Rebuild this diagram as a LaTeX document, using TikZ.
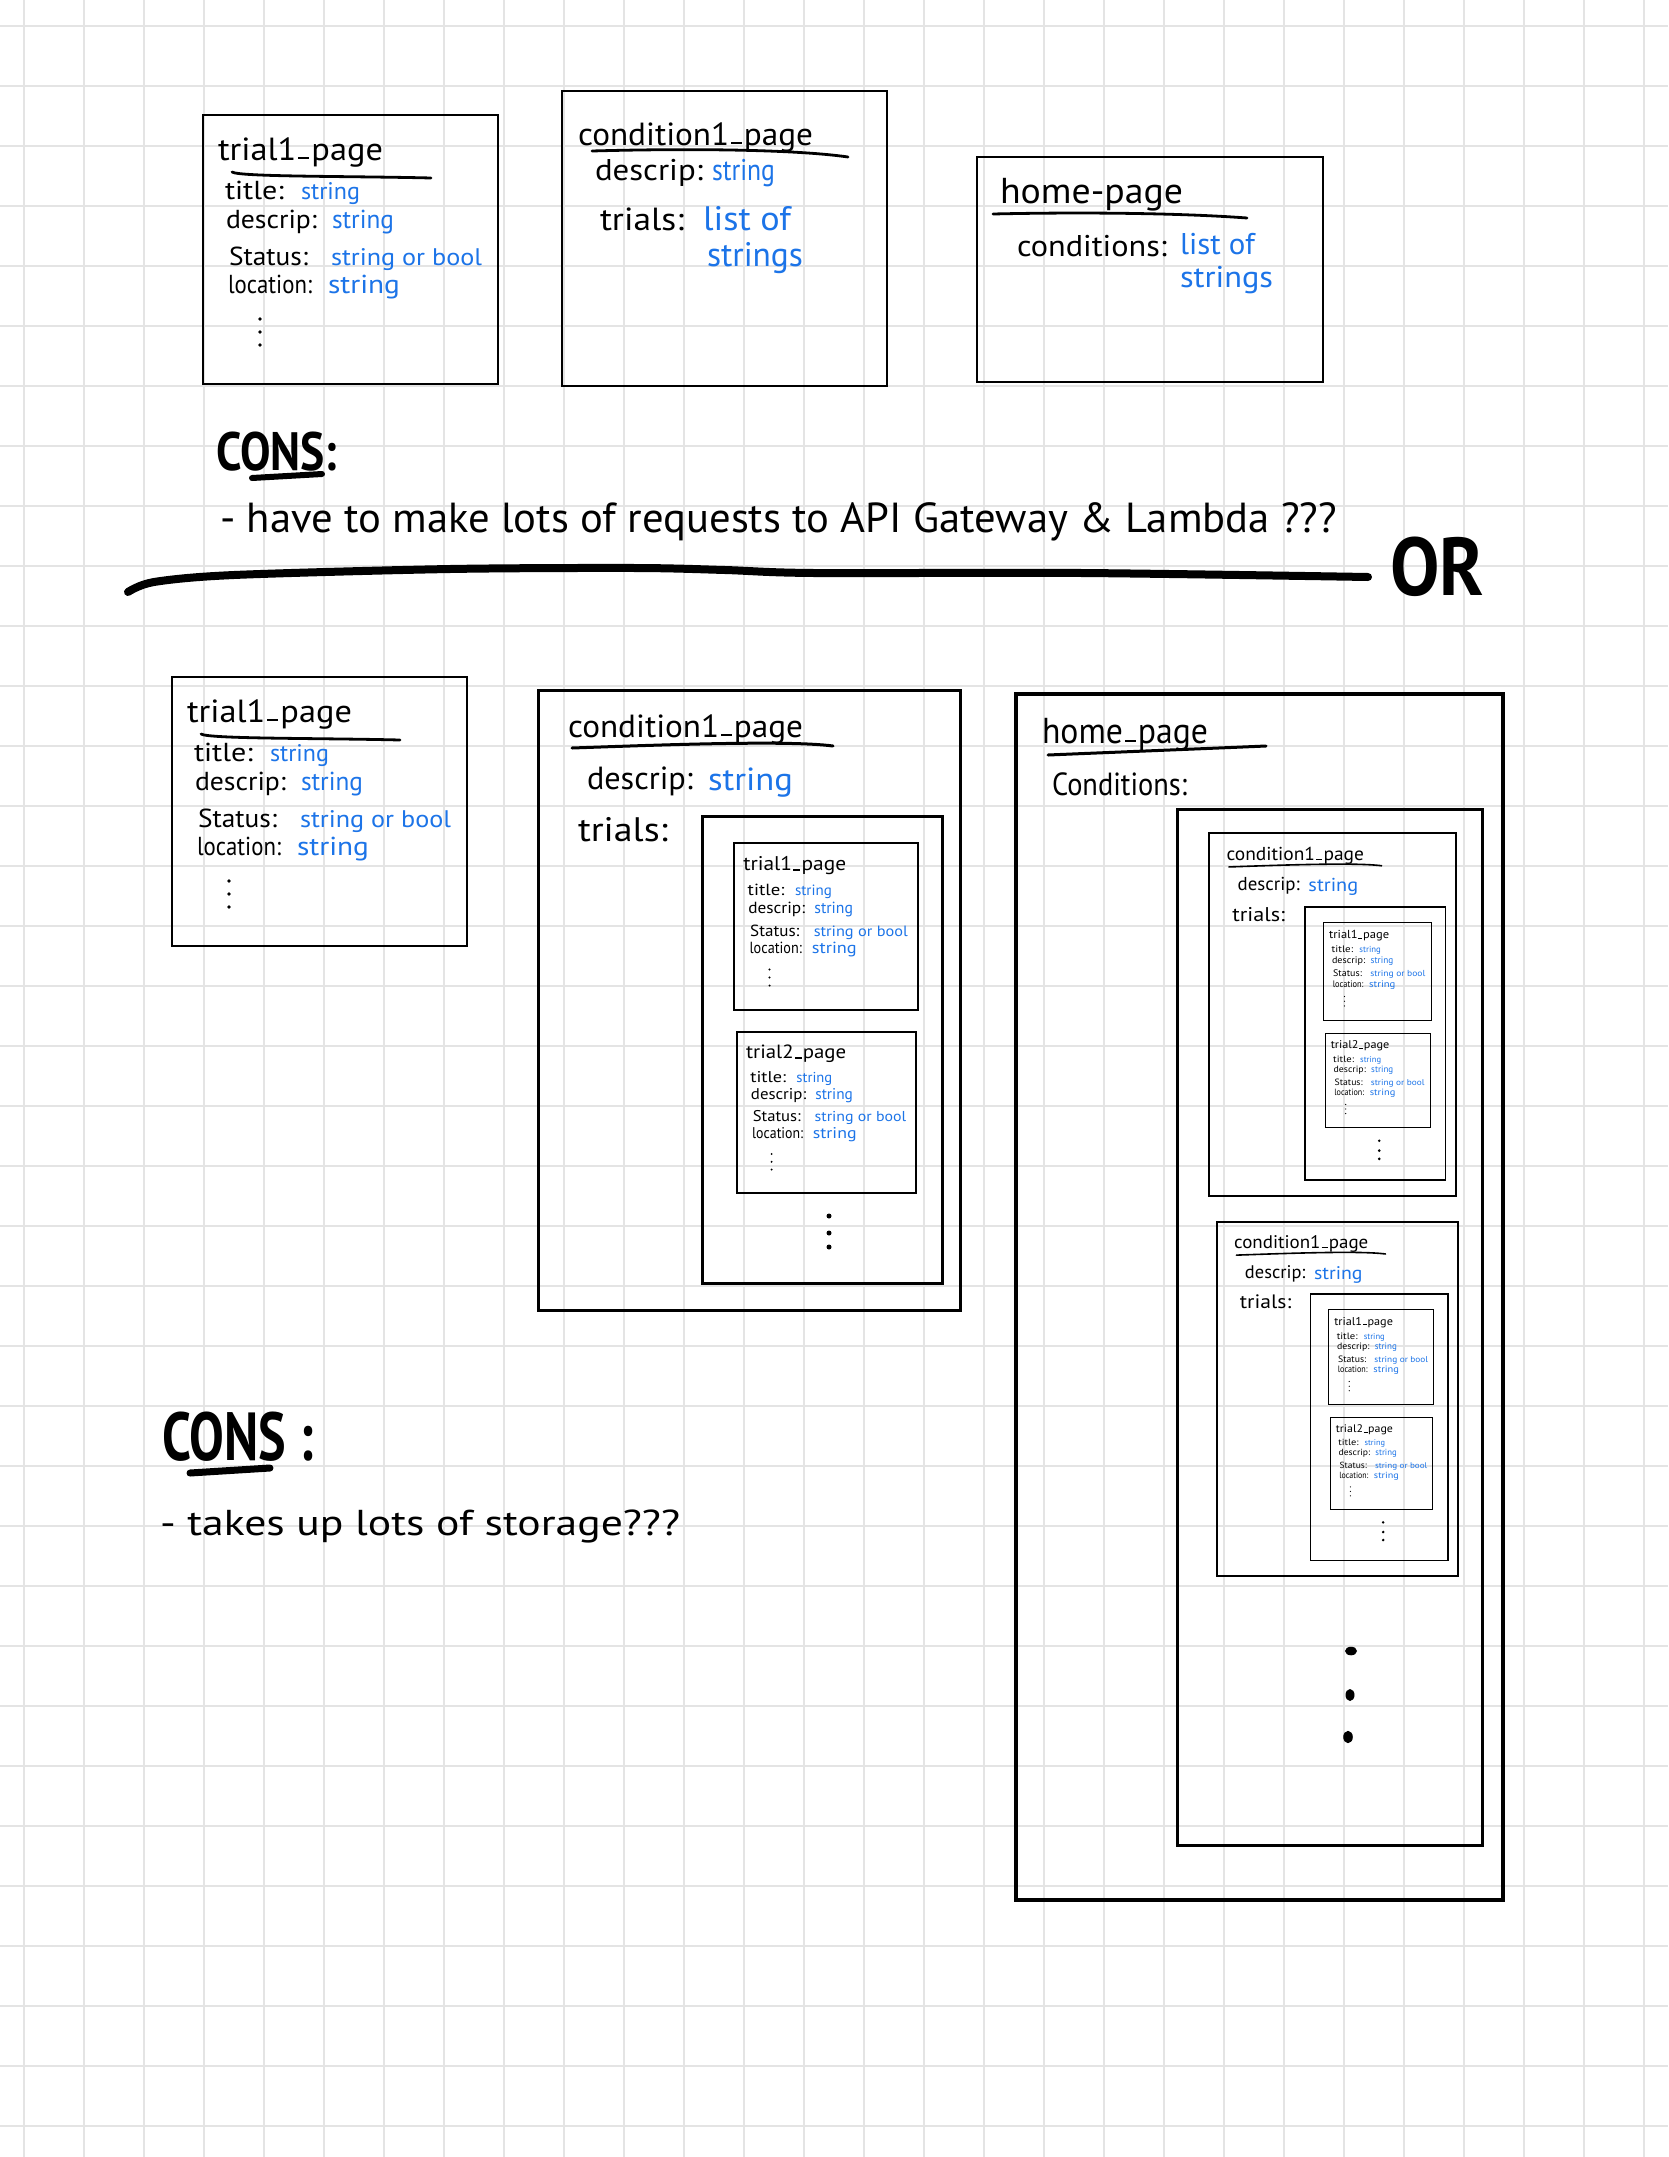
\documentclass[tikz,border=0pt]{standalone}
\usepackage{fontspec}
\setmainfont{PT Sans}
\usepackage{graphicx}
\definecolor{hwblue}{RGB}{28,116,232}
\definecolor{gridgray}{RGB}{228,228,228}
\newsavebox\hwbox
\newlength\hwlen
\newcommand\fitx[3]{\sbox\hwbox{\fontsize{#2}{#2}\selectfont #3}\setlength\hwlen{\wd\hwbox}\pgfmathsetmacro\hwr{#1/\hwlen}\scalebox{\hwr}[1]{\usebox\hwbox}}
\newcommand\us{\kern0.06em\rule[0.02em]{0.32em}{0.07em}\kern0.06em}
\tikzset{
 txt/.style={anchor=base west, inner sep=0pt, outer sep=0pt},
 val/.style={txt, text=hwblue},
 gridline/.style={draw=gridgray, line width=1.3},
 inkline/.style={line cap=round, line join=round},
}
% trial page: x y sx sy num lw prefix
\newcommand\trialpage[7]{%
\begin{scope}[shift={(#1,#2)}, xscale=#3, yscale=#4, transform shape]
 \draw[line width=#6] (0,0) rectangle (295,269);
 \node[txt] (#7h) at (15,45) {\fitx{165}{32}{trial#5\us page}};
 \node[txt] (#7a) at (22,84) {\fitx{59}{26}{title:}};
 \node[val] (#7av) at (98,84) {\fitx{59}{24}{string}};
 \node[txt] (#7b) at (23,113) {\fitx{91}{26}{descrip:}};
 \node[val] (#7bv) at (129,113) {\fitx{62}{26}{string}};
 \node[txt] (#7c) at (26,150) {\fitx{79}{26}{Status:}};
 \node[val] (#7cv) at (128,150) {\fitx{151}{24}{string or bool}};
 \node[txt] (#7d) at (25,178) {\fitx{84}{26}{location:}};
 \node[val] (#7dv) at (125,178) {\fitx{72}{26}{string}};
 \foreach \yy in {204,217,230} \fill (57,\yy) circle (1.8);
\end{scope}}
% condition page: x y scale lwouter lwinner prefix
\newcommand\condpage[6]{%
\begin{scope}[shift={(#1,#2)}, scale=#3, transform shape]
 \draw[line width=#4] (0,0) rectangle (422,620);
 \node[txt] (#6h) at (30,47) {\fitx{235}{32}{condition1\us page}};
 \draw[inkline, line width=#4] (34,58) .. controls (120,55) and (250,50) .. (295,56);
 \node[txt] (#6a) at (49,99) {\fitx{106}{32}{descrip:}};
 \node[val] (#6av) at (170,100) {\fitx{85}{32}{string}};
 \node[txt] (#6b) at (40,151) {\fitx{90}{34}{trials:}};
 \draw[line width=#4] (164,126) rectangle (404,593);
 \trialpage{196}{153}{0.623}{0.62}{1}{#5}{#6t}
 \trialpage{199}{342}{0.607}{0.598}{2}{#5}{#6u}
 \foreach \yy in {526,543,557} \fill (291,\yy) circle (2.5);
\end{scope}}
\begin{document}
\begin{tikzpicture}[x=1pt,y=-1pt]
\fill[white] (0,0) rectangle (1668,2157);
\useasboundingbox (0,0) rectangle (1668,2157);
\foreach \gx in {0,...,27} \draw[gridline] ({24+60*\gx},0) -- ({24+60*\gx},2157);
\foreach \gy in {0,...,35} \draw[gridline] (0,{26+60*\gy}) -- (1668,{26+60*\gy});

% ---------- top row ----------
\trialpage{203}{115}{1}{1}{1}{2.5}{ta}
\draw[inkline, line width=2.8] (232,172) .. controls (240,177) and (350,176) .. (431,178);

\draw[line width=2.5] (562,91) rectangle (887,386);
\node[txt] (tch) at (578,145) {\fitx{235}{32}{condition1\us page}};
\draw[inkline, line width=2.8] (592,151) .. controls (700,148) and (800,150) .. (848,157);
\node[txt] (tca) at (595,180) {\fitx{108}{30}{descrip:}};
\node[val] (tcav) at (712,180) {\fitx{63}{30}{string}};
\node[txt] (tcb) at (600,230) {\fitx{84}{32}{trials:}};
\node[val] (tcbv) at (703,230) {\fitx{88}{34}{list of}};
\node[val] (tcbw) at (707,266) {\fitx{96}{34}{strings}};

\draw[line width=2.5] (977,157) rectangle (1323,382);
\node[txt] (thh) at (1000,203) {\fitx{183}{36}{home-page}};
\draw[inkline, line width=2.8] (993,214) .. controls (1080,212) and (1180,213) .. (1247,218);
\node[txt] (tha) at (1017,256) {\fitx{150}{30}{conditions:}};
\node[val] (thav) at (1180,254) {\fitx{75}{30}{list of}};
\node[val] (thaw) at (1180,287) {\fitx{93}{30}{strings}};

\node[txt] (cons1) at (216,470) {\fitx{121}{54}{\bfseries CONS:}};
\draw[inkline, line width=6] (252,478) -- (322,474);
\node[txt] (con1) at (220,532) {\fitx{1117}{42}{- have to make lots of requests to API Gateway \& Lambda ???}};

\draw[inkline, line width=8] plot[smooth, tension=0.5] coordinates {(128,592) (154,582) (234,575) (450,569) (636,568) (725,570) (814,573) (1082,573) (1368,577)};
\node[txt] (or) at (1390,595) {\fitx{94}{82}{\bfseries OR}};

% ---------- bottom ----------
\trialpage{172}{677}{1}{1}{1}{2.5}{ba}
\draw[inkline, line width=2.8] (201,734) .. controls (209,739) and (319,738) .. (400,740);

\condpage{538}{690}{1}{3}{1.8}{bc}

\draw[line width=3.5] (1016,694) rectangle (1503,1900);
\node[txt] (bhh) at (1042,743) {\fitx{166}{36}{home\us page}};
\draw[inkline, line width=3] (1048,755) .. controls (1120,752) and (1220,748) .. (1266,746);
\node[txt] (bha) at (1052,795) {\fitx{135}{32}{Conditions:}};
\draw[line width=3] (1177,809) rectangle (1482,1845);
\condpage{1209}{833}{0.585}{1.6}{1.1}{hc}
\condpage{1217}{1222}{0.571}{1.6}{1.1}{hd}
\fill (1351,1651) ellipse (6 and 4.3);
\fill (1350,1695) ellipse (4.5 and 6);
\fill (1348,1737) ellipse (4.8 and 6.2);

\node[txt] (cons2) at (162,1460) {\fitx{151}{68}{\bfseries CONS :}};
\draw[inkline, line width=7] (190,1473) -- (270,1468);
\node[txt] (con2) at (160,1535) {\fitx{520}{36}{- takes up lots of storage???}};
\end{tikzpicture}
\end{document}
